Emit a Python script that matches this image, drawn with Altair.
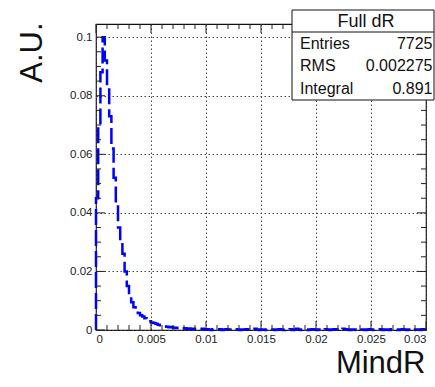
import altair as alt
import pandas as pd

# MindR histogram: 150 bins of width 0.0002 between 0 and 0.03
BIN_WIDTH = 0.0002
X_MAX = 0.03
Y_MAX = 0.1045

PEAK_VALUES = [
    0.045, 0.070, 0.088, 0.100, 0.092, 0.083, 0.073, 0.062, 0.052, 0.043,
    0.035, 0.030, 0.026, 0.020, 0.015, 0.012, 0.0095, 0.0078, 0.0068, 0.0058,
    0.0050, 0.0046, 0.0040, 0.0034, 0.0030, 0.0026, 0.0024, 0.0021, 0.0018, 0.0016,
    0.0014, 0.0012, 0.0011, 0.0009, 0.0010, 0.0008, 0.0007, 0.0008, 0.0006, 0.0005,
    0.0006, 0.0004, 0.0005, 0.0003, 0.0004,
]
TAIL_VALUES = [
    0.00026, 0.00013, 0.00026, 0.00039, 0.00013, 0.00026, 0.00013, 0.0, 0.00026, 0.00013,
    0.00013, 0.00026, 0.0, 0.00013, 0.00026, 0.00013, 0.00013, 0.0, 0.00026, 0.00013,
    0.0, 0.00013, 0.00013, 0.00026, 0.00013, 0.0, 0.00013, 0.00039, 0.00013, 0.0,
    0.00013, 0.00013, 0.0, 0.00026, 0.00013, 0.00013, 0.0, 0.00013, 0.00026, 0.00013,
    0.0, 0.00013, 0.00013, 0.00026, 0.0, 0.00013, 0.00039, 0.00013, 0.0, 0.00013,
    0.00013, 0.0, 0.00013, 0.00026, 0.00013, 0.0, 0.00013, 0.00013, 0.0, 0.00026,
    0.00013, 0.0, 0.00013, 0.00026, 0.00013, 0.00013, 0.0, 0.00039, 0.00026, 0.00013,
    0.0, 0.00013, 0.00013, 0.0, 0.00026, 0.00013, 0.00013, 0.0, 0.00013, 0.00026,
    0.00013, 0.0, 0.00013, 0.00013, 0.00026, 0.0, 0.00013, 0.00013, 0.0, 0.00026,
    0.00013, 0.00013, 0.0, 0.00013, 0.00026, 0.00013, 0.0, 0.00013, 0.00026, 0.0,
    0.00013, 0.00013, 0.0, 0.00026, 0.00013,
]
MINDR_VALUES = PEAK_VALUES + TAIL_VALUES

X_MAJOR = [0, 0.005, 0.01, 0.015, 0.02, 0.025, 0.03]
X_MINOR = [round(i * 0.001, 4) for i in range(31) if i % 5 != 0]
Y_MAJOR = [0, 0.02, 0.04, 0.06, 0.08, 0.1]
Y_MINOR = [round(i * 0.005, 4) for i in range(21) if i % 4 != 0]

STAT_TITLE = "Full dR"
STAT_NAMES = ["Entries", "RMS", "Integral"]
STAT_VALUES = ["7725", "0.002275", "0.891"]

W, H = 330, 306
FONT = "Liberation Sans"

# outline of the histogram as a step path
rows = [{"x": 0.0, "y": 0.0, "o": 0}]
for i, v in enumerate(MINDR_VALUES):
    rows.append({"x": round(i * BIN_WIDTH, 5), "y": v, "o": i + 1})
rows.append({"x": X_MAX, "y": MINDR_VALUES[-1], "o": len(MINDR_VALUES) + 1})
hist_df = pd.DataFrame(rows)

xscale = alt.Scale(domain=[0, X_MAX], nice=False, zero=False)
yscale = alt.Scale(domain=[0, Y_MAX], nice=False, zero=False)

X_AXIS = alt.Axis(
    values=X_MAJOR, format="~g", ticks=False, domain=False,
    grid=True, gridDash=[1.5, 2.5], gridColor="#444", gridWidth=1,
    labelFont=FONT, labelFontSize=11.5, labelColor="#222", labelPadding=3,
    title="MindR", titleFont=FONT, titleFontSize=31, titleFontWeight="normal",
    titleColor="#111", titleAnchor="end", titleAlign="right",
    titleX=W - 1, titleY=42, titleBaseline="alphabetic",
)
Y_AXIS = alt.Axis(
    values=Y_MAJOR, format="~g", ticks=False, domain=False,
    grid=True, gridDash=[1.5, 2.5], gridColor="#444", gridWidth=1,
    labelFont=FONT, labelFontSize=11.5, labelColor="#222", labelPadding=4,
    title="A.U.", titleFont=FONT, titleFontSize=31, titleFontWeight="normal",
    titleColor="#111", titleAnchor="end", titleAlign="right", titleAngle=270,
    titleX=-55, titleY=-2, titleBaseline="alphabetic",
)

hist = alt.Chart(hist_df).mark_line(
    interpolate="step-after", color="#0000ff", strokeWidth=2.5, strokeDash=[16, 5]
).encode(
    x=alt.X("x:Q", scale=xscale, axis=X_AXIS),
    y=alt.Y("y:Q", scale=yscale, axis=Y_AXIS),
    order="o:Q",
)


def x_ticks(values, length):
    df = pd.DataFrame({"x": values})
    base = alt.Chart(df).mark_rule(color="#222", strokeWidth=1)
    xenc = alt.X("x:Q", scale=xscale, axis=X_AXIS)
    bottom = base.encode(x=xenc, y=alt.value(H), y2=alt.value(H - length))
    top = base.encode(x=xenc, y=alt.value(0), y2=alt.value(length))
    return bottom + top


def y_ticks(values, length):
    df = pd.DataFrame({"y": values})
    base = alt.Chart(df).mark_rule(color="#222", strokeWidth=1)
    yenc = alt.Y("y:Q", scale=yscale, axis=Y_AXIS)
    left = base.encode(y=yenc, x=alt.value(0), x2=alt.value(length))
    right = base.encode(y=yenc, x=alt.value(W), x2=alt.value(W - length))
    return left + right


ticks = x_ticks(X_MAJOR, 9) + x_ticks(X_MINOR, 5) + y_ticks(Y_MAJOR, 9) + y_ticks(Y_MINOR, 5)

# statistics box in the top right corner
BOX_L, BOX_R, BOX_T, BOX_B, BOX_SEP = 196, 338, -14, 76, 8
box = alt.Chart(pd.DataFrame({"a": [0]})).mark_rect(
    fill="white", stroke="#111", strokeWidth=1
).encode(
    x=alt.value(BOX_L), x2=alt.value(BOX_R), y=alt.value(BOX_T), y2=alt.value(BOX_B)
)
sep = alt.Chart(pd.DataFrame({"a": [0]})).mark_rule(color="#111", strokeWidth=1).encode(
    x=alt.value(BOX_L), x2=alt.value(BOX_R), y=alt.value(BOX_SEP)
)
title_txt = alt.Chart(pd.DataFrame({"t": [STAT_TITLE]})).mark_text(
    font=FONT, fontSize=18, align="center", baseline="alphabetic", color="#111"
).encode(text="t:N", x=alt.value((BOX_L + BOX_R) / 2 + 3), y=alt.value(3))

stat_layers = []
for name, val, yb in zip(STAT_NAMES, STAT_VALUES, [24.5, 47, 69.5]):
    d = pd.DataFrame({"n": [name], "v": [val]})
    stat_layers.append(
        alt.Chart(d).mark_text(font=FONT, fontSize=16, align="left",
                               baseline="alphabetic", color="#111")
        .encode(text="n:N", x=alt.value(BOX_L + 8), y=alt.value(yb))
    )
    stat_layers.append(
        alt.Chart(d).mark_text(font=FONT, fontSize=16, align="right",
                               baseline="alphabetic", color="#111")
        .encode(text="v:N", x=alt.value(BOX_R - 1.5), y=alt.value(yb))
    )

chart = alt.layer(hist, ticks, box, sep, title_txt, *stat_layers).properties(
    width=W,
    height=H,
    autosize=alt.AutoSizeParams(type="none"),
    padding={"left": 96, "top": 24, "right": 9, "bottom": 57},
    background="white",
).configure_view(stroke="#111", strokeWidth=1.2)

chart.save("out.html", embed_options={"renderer": "svg", "actions": False})
